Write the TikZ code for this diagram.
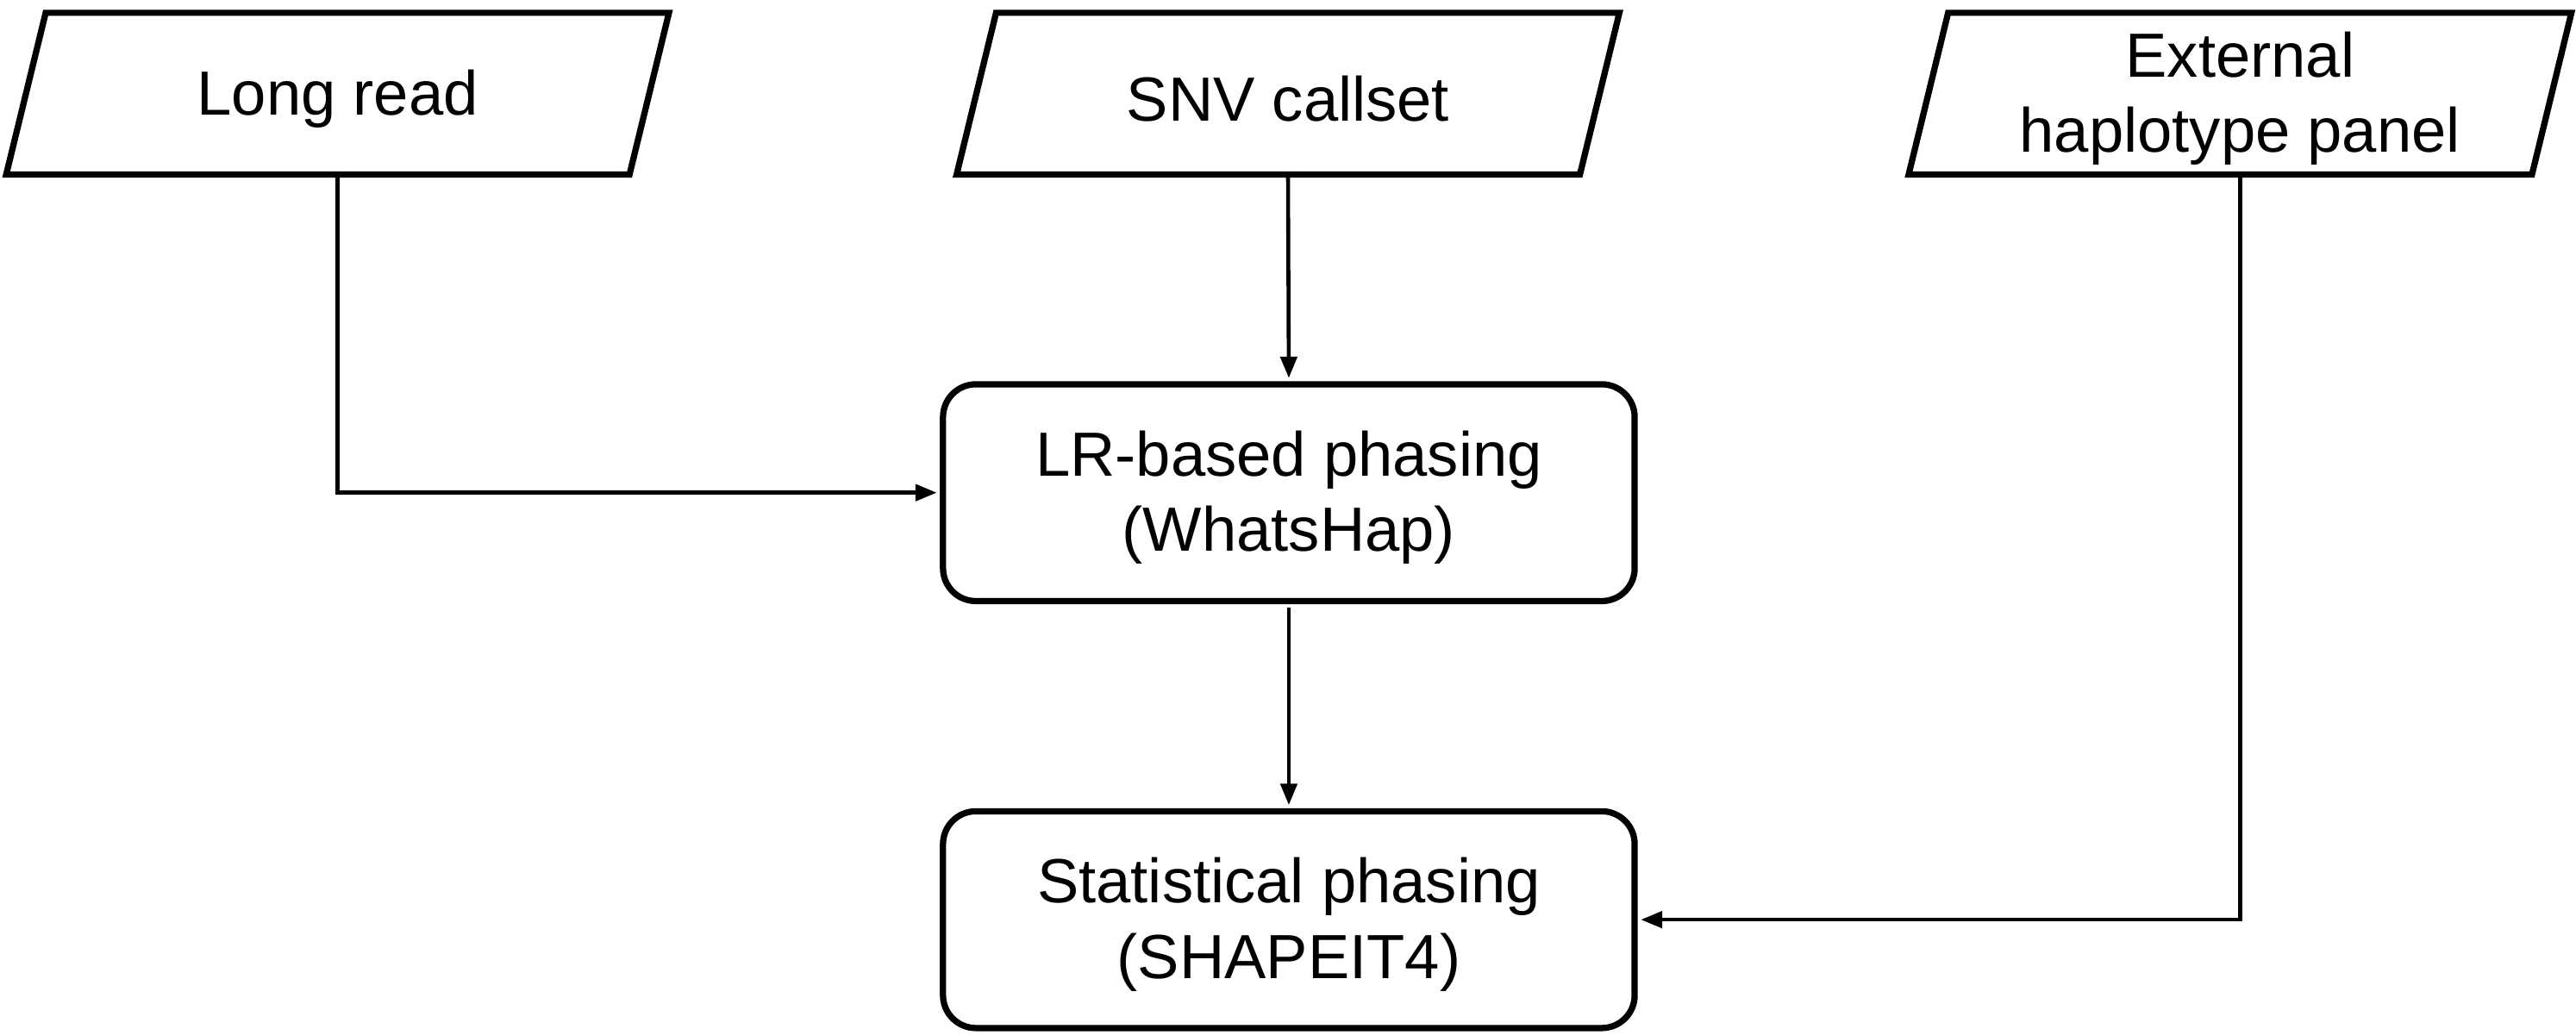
\documentclass[tikz,border=0pt]{standalone}
\usepackage{fontspec}
\setmainfont{Liberation Sans}
\usetikzlibrary{arrows.meta}
\begin{document}
\begin{tikzpicture}[x=1pt,y=1pt,
  txt/.style={font=\fontsize{38}{46}\selectfont, align=center, inner sep=0pt},
  inbox/.style={inner sep=0pt, minimum width=379pt, minimum height=98pt},
  procbox/.style={inner sep=0pt, draw, line width=3.8pt, rounded corners=20pt, minimum width=421pt, minimum height=132pt},
  para/.style={draw, line width=3.8pt, line join=miter},
  conn/.style={line width=2.4pt, -{Triangle[length=13pt,width=10pt]}}
]
\useasboundingbox (0,0) rectangle (1568,-630);
\node[inbox, label={[txt,yshift=-3pt]center:Long read}] (lr) at (205.5,-57) {};
\node[inbox, label={[txt,yshift=-3pt]center:SNV callset}] (snv) at (784,-57) {};
\node[inbox, label={[txt,yshift=-3pt]center:External\\haplotype panel}] (ext) at (1363.5,-57) {};
\foreach \n in {lr,snv,ext}{
  \draw[para] ([xshift=12pt]\n.north west) -- ([xshift=12pt]\n.north east) -- ([xshift=-12pt]\n.south east) -- ([xshift=-12pt]\n.south west) -- cycle;
}
\node[procbox, label={[txt,yshift=-3pt]center:LR-based phasing\\(WhatsHap)}] (lrb) at (784.5,-300) {};
\node[procbox, label={[txt,yshift=-3pt]center:Statistical phasing\\(SHAPEIT4)}] (stat) at (784.5,-560) {};
\draw[conn] ([yshift=-1.9pt]lr.south) |- ([xshift=-1.9pt]lrb.west);
\draw[conn] ([yshift=-1.9pt]snv.south) -- ([yshift=1.9pt]lrb.north);
\draw[conn] ([yshift=-1.9pt]lrb.south) -- ([yshift=1.9pt]stat.north);
\draw[conn] ([yshift=-1.9pt]ext.south) |- ([xshift=1.9pt]stat.east);
\end{tikzpicture}
\end{document}
